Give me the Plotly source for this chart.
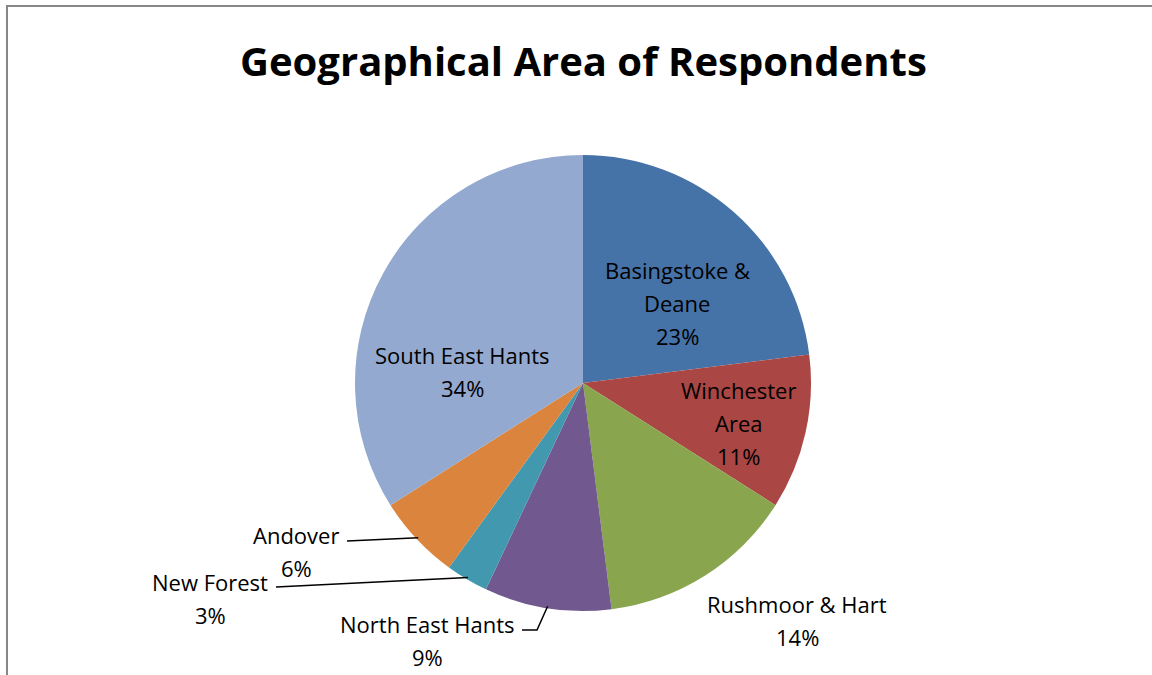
import math
import plotly.graph_objects as go

# ---- data ----
areas = ["Basingstoke & Deane", "Winchester Area", "Rushmoor & Hart", "North East Hants",
         "New Forest", "Andover", "South East Hants"]
percent = [23, 11, 14, 9, 3, 6, 34]
colors = ["#4572A7", "#AA4643", "#89A54E", "#71588F", "#4198AF", "#DB843D", "#93A9CF"]

# label text lines per slice
label_lines = [
    ["Basingstoke &", "Deane"],
    ["Winchester", "Area"],
    ["Rushmoor & Hart"],
    ["North East Hants"],
    ["New Forest"],
    ["Andover"],
    ["South East Hants"],
]

W, H = 1152, 675
CX, CY, R = 583, 383, 228  # pie geometry in pixels

# label anchor (center x, first line y) in pixels
label_pos = [(677, 270), (738, 390), (797, 604), (427, 624), (210, 582), (296, 535), (462, 355)]
LINE_GAP = 33
# leader lines: start point(s) in pixels; end is computed on the slice edge
leaders = {3: [(522, 630), (537, 630)], 4: [(276, 587)], 5: [(347, 541)]}

FONT = "Open Sans"


def px(x):
    return x / W


def py(y):
    return 1 - y / H


fig = go.Figure(go.Pie(
    labels=areas, values=percent, sort=False, direction="clockwise", rotation=0,
    marker=dict(colors=colors, line=dict(width=0)), textinfo="none", hoverinfo="label+percent",
    domain=dict(x=[px(CX - R), px(CX + R)], y=[py(CY + R), py(CY - R)]),
    showlegend=False,
))

annotations = []
shapes = []
total = sum(percent)
cum = 0
for i, v in enumerate(percent):
    mid = (cum + v / 2) / total * 2 * math.pi
    cum += v
    lx, ly = label_pos[i]
    lines = label_lines[i] + [f"{round(v / total * 100)}%"]
    for k, t in enumerate(lines):
        annotations.append(dict(
            x=px(lx), y=py(ly + k * LINE_GAP), xref="paper", yref="paper",
            text=t, showarrow=False, xanchor="center", yanchor="middle",
            font=dict(family=FONT, size=22, color="#000000"),
        ))
    if i in leaders:
        ex = CX + (R - 2) * math.sin(mid)
        ey = CY - (R - 2) * math.cos(mid)
        pts = leaders[i] + [(ex, ey)]
        path = "M " + " L ".join(f"{px(a)},{py(b)}" for a, b in pts)
        shapes.append(dict(type="path", path=path, xref="paper", yref="paper",
                           line=dict(color="#000000", width=1.5)))

# chart frame
shapes.append(dict(type="rect", xref="paper", yref="paper", x0=px(7), y0=-0.02, x1=1.02, y1=py(6),
                   line=dict(color="#878787", width=2), fillcolor="rgba(0,0,0,0)"))

annotations.append(dict(
    x=px(583), y=py(60), xref="paper", yref="paper", showarrow=False,
    text="<b>Geographical Area of Respondents</b>", xanchor="center", yanchor="middle",
    font=dict(family=FONT, size=40, color="#000000"),
))

fig.update_layout(
    width=W, height=H, margin=dict(l=0, r=0, t=0, b=0),
    paper_bgcolor="white", plot_bgcolor="white",
    annotations=annotations, shapes=shapes,
)

fig.write_html("out.html", config={"displayModeBar": False},
               post_script="document.body.style.margin='0';document.body.style.overflow='hidden';")
